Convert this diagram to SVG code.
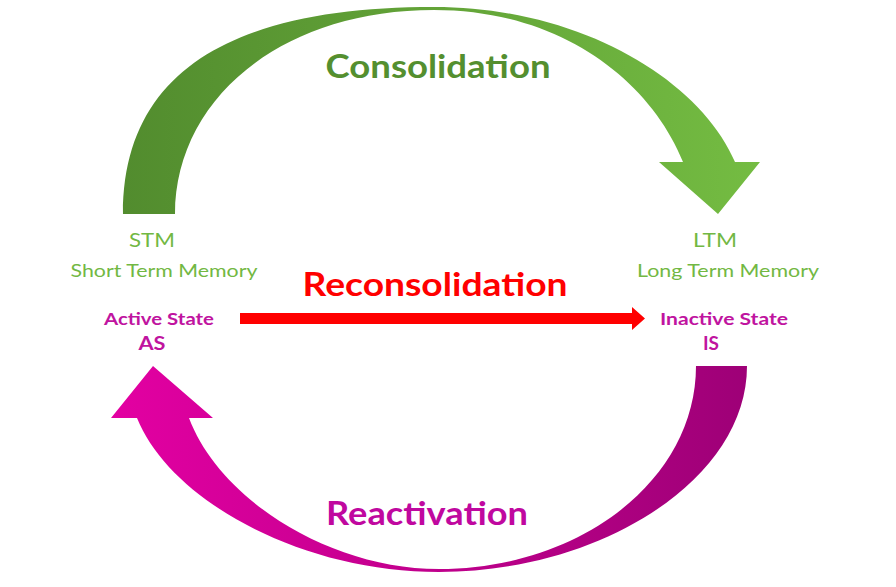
<svg xmlns="http://www.w3.org/2000/svg" width="896" height="587" viewBox="0 0 896 587">
<defs>
<linearGradient id="gG" x1="0" y1="0" x2="1" y2="0">
<stop offset="0" stop-color="#528c2e"/>
<stop offset="1" stop-color="#74bc42"/>
</linearGradient>
<linearGradient id="gM" x1="0" y1="0" x2="1" y2="0">
<stop offset="0" stop-color="#e300a2"/>
<stop offset="1" stop-color="#9e0077"/>
</linearGradient>
<style>
text{font-family:Lato,"Open Sans","Liberation Sans",sans-serif;text-anchor:middle}
.g{fill:#72b843;font-size:18px}
.m{fill:#c0149f;font-size:17px;font-weight:bold}
.big{font-size:33px;font-weight:bold}
</style>
</defs>
<rect width="896" height="587" fill="#ffffff"/>
<g id="connectors">
<path id="consolidation-arrow" fill="url(#gG)" d="M123 214 C123 60 250 7 434 7 C580 7 700 80 735 162 L760 162 L718 214 L659 162 L683 162 C650 80 560 10 434 10 C280 10 175 100 175 214 Z"/>
<path id="reactivation-arrow" fill="url(#gM)" d="M747 366 C747 480 600 572 439 572 C300 572 170 500 137 418 L111 418 L153 366 L213 418 L189 418 C220 500 330 569 439 569 C580 569 696 480 696 366 Z"/>
<path id="reconsolidation-arrow" fill="#ff0000" d="M240 313 L632 313 L632 307 L645 318.5 L632 330 L632 324 L240 324 Z"/>
</g>
<g id="label-consolidation"><text x="438" y="78" class="big" fill="#548f2f" textLength="225" lengthAdjust="spacingAndGlyphs">Consolidation</text></g>
<g id="label-reconsolidation"><text x="435" y="296" class="big" fill="#ff0000" textLength="265" lengthAdjust="spacingAndGlyphs">Reconsolidation</text></g>
<g id="label-reactivation"><text x="427" y="525" class="big" fill="#c0089f" textLength="202" lengthAdjust="spacingAndGlyphs">Reactivation</text></g>
<g id="node-stm">
<text x="152" y="247" class="g" style="font-size:19px" textLength="46" lengthAdjust="spacingAndGlyphs">STM</text>
<text x="164" y="277" class="g" textLength="187" lengthAdjust="spacingAndGlyphs">Short Term Memory</text>
<text x="159" y="325" class="m" textLength="110" lengthAdjust="spacingAndGlyphs">Active State</text>
<text x="152" y="350" class="m" style="font-size:19px" textLength="27" lengthAdjust="spacingAndGlyphs">AS</text>
</g>
<g id="node-ltm">
<text x="715" y="247" class="g" style="font-size:19px" textLength="44" lengthAdjust="spacingAndGlyphs">LTM</text>
<text x="728" y="277" class="g" textLength="182" lengthAdjust="spacingAndGlyphs">Long Term Memory</text>
<text x="724" y="325" class="m" textLength="128" lengthAdjust="spacingAndGlyphs">Inactive State</text>
<text x="711" y="350" class="m" style="font-size:19px">IS</text>
</g>
</svg>
